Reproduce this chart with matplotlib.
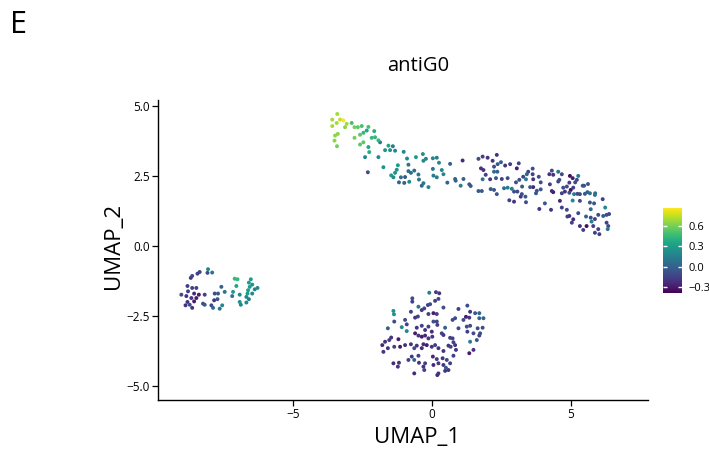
import numpy as np
import matplotlib
matplotlib.use("Agg")
import matplotlib.pyplot as plt
from matplotlib.colors import Normalize

plt.rcParams['font.family'] = ['Open Sans', 'DejaVu Sans']

title = "antiG0"
panel_label = "E"
xlabel = "UMAP_1"
ylabel = "UMAP_2"
xticks = [-5, 0, 5]
yticks = [-5.0, -2.5, 0.0, 2.5, 5.0]
cbar_ticks = [-0.3, 0.0, 0.3, 0.6]
vmin, vmax = -0.39, 0.87

# ---- upper arc cluster ----
arc1_x = [-3.41,-3.31,-3.19,-3.59,-3.43,-3.59,-3.07,-3.13,-2.89,-2.79,-2.67,-2.53,-2.29,-3.39,-3.49,-3.51,-3.42,-2.59,-2.47,-2.35,-2.08,-2.79,-2.17,-2.05,-1.93,-2.47,-2.59,-2.29,-1.87,-1.57,-1.41,-1.69,-1.51,-1.33,-2.26,-1.93,-2.41,-1.02,-0.90,-0.58,
          -0.85,-1.75,-1.23,-1.27,-1.33,-1.47,-1.39,-2.31,-1.12,-0.97,-0.85,-0.76,-0.64,-0.49,-0.47,-1.19,-1.00,-0.82]
arc1_y = [4.71,4.51,4.48,4.51,4.39,4.28,4.36,4.24,4.39,4.24,4.24,4.28,4.25,4.00,3.94,3.76,3.56,3.97,4.04,4.12,4.10,3.86,3.86,3.88,3.77,3.70,3.62,3.53,3.70,3.58,3.56,3.42,3.42,3.40,3.35,3.17,3.17,3.36,3.12,3.17,
          2.90,2.81,2.88,2.72,2.61,2.52,2.45,2.63,2.45,2.46,2.67,2.61,2.69,2.55,2.37,2.27,2.25,2.29]
arc1_v = [0.70,0.75,0.85,0.70,0.70,0.70,0.70,0.65,0.50,0.60,0.55,0.50,0.50,0.65,0.65,0.65,0.60,0.55,0.45,0.35,0.40,0.60,0.45,0.45,0.45,0.55,0.55,0.35,0.10,0.35,0.15,0.25,0.25,0.20,0.40,0.20,0.20,0.20,0.20,0.30,
          0.10,0.25,0.30,0.25,0.25,0.30,0.20,-0.10,0.05,-0.05,0.05,0.05,0.05,0.10,0.10,0.00,0.00,0.20]

arc2_x = [-0.33,-0.22,-0.31,0.03,0.17,0.25,0.65,1.10,0.03,0.35,0.41,0.05,0.17,-0.31,-0.37,-0.13,0.55,0.83,0.85,1.13,1.03,1.34,1.39]
arc2_y = [3.28,3.11,3.04,3.13,3.15,2.97,2.93,3.05,2.75,2.71,2.56,2.51,2.45,2.24,2.15,2.10,2.26,2.39,2.33,2.39,2.15,2.20,2.14]
arc2_v = [0.25,0.20,0.20,0.20,0.15,0.20,0.00,-0.25,0.10,0.20,0.20,0.15,0.15,0.10,0.00,0.20,0.00,0.00,0.00,0.00,0.15,-0.05,-0.05]

arc3_x = [1.67,1.82,2.00,2.18,2.33,2.48,2.36,2.63,2.23,1.85,1.76,2.23,2.35,2.81,3.12,3.05,1.93,1.82,2.09,2.30,2.51,2.72,3.02,3.14,1.67,1.79,2.11,2.23,2.33,2.59,2.72,2.87,2.95,3.07,2.78,2.95]
arc3_y = [3.11,3.19,3.15,3.04,3.25,2.99,2.92,2.87,2.83,2.71,2.77,2.65,2.65,2.92,2.95,2.77,2.54,2.38,2.38,2.42,2.39,2.42,2.27,2.36,1.96,1.96,2.03,2.00,1.85,2.06,2.08,2.04,1.94,1.94,1.63,1.58]
arc3_v = [-0.10,-0.15,-0.20,-0.20,-0.20,0.00,-0.05,-0.20,-0.10,-0.20,-0.20,0.05,0.00,-0.15,-0.15,-0.30,-0.15,0.10,-0.20,-0.05,-0.15,-0.10,-0.10,-0.10,-0.05,-0.05,-0.05,-0.05,-0.05,0.05,0.15,0.15,-0.10,-0.10,-0.15,-0.20]

arc4_x = [3.46,3.41,3.62,3.28,3.38,3.62,3.64,3.84,3.91,3.24,3.23,3.36,3.19,3.53,3.64,3.77,3.91,3.74,3.38,4.06,
          3.86,4.28,4.31,4.22,4.36,4.54,4.67,4.58,4.54,4.24,4.31,4.36,4.72,4.85,4.67,4.78,4.96,5.06,5.26,5.21,
          5.15,4.94,5.08,4.99,4.94,5.11,5.23,5.42,5.47,5.61,5.32,5.50,5.59,5.68,5.87,5.86,5.32,5.06,4.60,4.67,
          4.85,5.68,5.83,6.14,6.23,5.71,5.26,4.94,4.87,5.08,5.03,5.54,5.71,5.86,5.74,5.98,6.16,6.28,6.37,5.32,
          5.56,5.80,5.98,6.28,6.34,5.44,5.86,6.02,6.32]
arc4_y = [2.65,2.56,2.76,2.47,2.38,2.56,2.38,2.47,2.27,2.12,1.85,1.76,1.76,2.10,2.10,1.97,2.02,1.88,1.56,1.52,
          1.32,1.29,2.69,2.56,2.54,2.65,2.56,2.36,2.30,2.20,1.96,1.92,2.08,2.12,1.88,1.94,2.50,2.42,2.50,2.36,
          2.27,2.26,2.08,2.00,1.90,1.85,1.86,2.15,2.15,2.21,1.85,1.86,1.92,1.88,1.88,1.82,1.61,1.62,1.61,1.37,
          1.29,1.55,1.52,1.67,1.37,1.31,1.17,1.07,1.05,0.95,0.83,1.05,1.01,0.96,0.87,1.11,1.07,1.11,1.14,0.71,
          0.71,0.71,0.60,0.83,0.71,0.57,0.47,0.42,0.60]
arc4_v = [-0.15,0.00,-0.10,-0.15,0.15,-0.15,-0.20,-0.10,-0.10,-0.05,-0.10,-0.05,-0.20,-0.05,-0.25,-0.05,-0.05,-0.05,-0.10,-0.05,
          -0.20,-0.20,-0.10,-0.20,-0.20,0.10,-0.10,-0.10,-0.15,-0.15,-0.25,-0.30,-0.10,-0.10,-0.15,-0.20,-0.35,-0.30,0.15,-0.10,
          -0.10,-0.15,-0.15,-0.35,-0.10,0.15,-0.10,-0.05,-0.10,-0.05,-0.10,-0.05,0.00,0.05,0.05,0.10,-0.10,0.20,-0.25,-0.15,
          -0.10,-0.05,-0.05,-0.15,0.20,0.05,-0.10,-0.20,-0.15,-0.25,-0.15,0.00,-0.10,-0.15,0.15,-0.10,-0.05,-0.10,-0.10,-0.20,
          -0.35,-0.15,-0.15,-0.15,-0.10,-0.15,-0.15,-0.15,0.10]

# ---- bottom cluster ----
bot1_x = [-0.10,-0.71,-0.71,-0.49,-0.28,-0.37,-0.15,-0.07,-0.76,-1.39,-1.37,-0.51,-0.61,-0.13,-1.36,-0.97,-0.91,-1.09,-0.91,-1.59,
          -0.55,-0.37,-0.13,-0.25,-0.61,-0.49,-0.37,-0.25,-0.13,0.01,-1.47,-1.54,-1.21,-0.97,-1.15,-0.76,-0.55,-0.64,-0.31,-0.19,
          -0.37,-1.69,-1.79,-1.59,-1.75,-1.36,-0.73,-0.49,-0.85,-0.64,-0.47,-0.25,-0.31,-1.19,-1.39,-1.23,-0.28,-0.64]
bot1_y = [-1.67,-1.87,-1.99,-2.17,-2.23,-2.29,-2.11,-2.08,-2.35,-2.32,-2.44,-2.52,-2.56,-2.43,-2.70,-2.64,-2.80,-2.90,-3.04,-2.94,
          -2.92,-2.85,-2.88,-3.00,-3.12,-3.20,-3.24,-3.20,-3.30,-3.24,-3.27,-3.36,-3.33,-3.54,-3.60,-3.51,-3.56,-3.65,-3.51,-3.54,
          -3.65,-3.42,-3.54,-3.65,-3.78,-3.60,-3.95,-3.92,-4.07,-4.07,-4.17,-4.19,-4.31,-4.17,-4.19,-4.31,-4.43,-4.55]
bot1_v = [0.15,-0.10,-0.15,0.10,-0.15,-0.20,-0.15,-0.10,-0.15,0.25,0.25,-0.15,-0.20,-0.15,-0.10,-0.10,-0.15,0.20,0.20,0.00,
          -0.20,-0.15,-0.15,-0.20,-0.30,-0.20,-0.30,-0.25,-0.20,-0.20,-0.20,-0.15,-0.30,-0.20,-0.30,-0.20,-0.20,-0.10,-0.25,-0.30,
          -0.25,-0.20,-0.25,-0.20,-0.20,-0.15,-0.20,-0.15,-0.15,0.00,-0.20,-0.15,-0.20,-0.20,-0.25,-0.20,-0.15,-0.25]

bot2_x = [0.14,0.26,0.11,0.23,0.41,0.95,1.37,1.27,1.55,1.70,1.70,1.85,1.22,1.34,1.13,0.83,0.74,0.05,0.17,0.05,
          0.17,0.19,0.47,0.95,1.25,1.37,1.64,1.82,1.73,1.49,1.27,-0.01,0.35,0.41,0.65,0.74,1.70,1.61,1.37,0.77,
          0.59,0.83,0.67,0.11,-0.01,0.23,0.41,0.86,1.34,1.49,0.77,0.03,0.17,0.38,0.53,0.05,0.23,0.41,0.65,0.50,
          0.47,0.59,0.23,0.19]
bot2_y = [-1.65,-1.69,-1.96,-1.89,-2.20,-2.25,-2.35,-2.13,-2.40,-2.40,-2.58,-2.58,-2.53,-2.56,-2.64,-2.58,-2.64,-2.40,-2.43,-2.70,
          -2.70,-2.82,-2.92,-2.94,-2.88,-2.85,-2.94,-2.92,-3.12,-3.12,-3.06,-3.06,-3.12,-3.18,-3.28,-3.30,-3.20,-3.36,-3.42,-3.44,
          -3.56,-3.54,-3.60,-3.54,-3.60,-3.65,-3.75,-3.71,-3.83,-3.71,-3.92,-3.95,-4.04,-4.01,-4.07,-4.25,-4.19,-4.25,-4.19,-4.35,
          -4.46,-4.43,-4.55,-4.61]
bot2_v = [-0.15,-0.20,-0.15,-0.10,-0.10,-0.15,-0.20,-0.10,-0.05,0.00,0.00,0.00,-0.30,-0.20,-0.10,-0.10,-0.10,-0.30,-0.15,-0.10,
          -0.15,-0.15,0.00,-0.10,-0.10,-0.10,-0.10,-0.10,-0.10,-0.10,-0.15,-0.25,-0.15,-0.20,-0.15,-0.15,-0.15,-0.05,0.15,-0.15,
          -0.20,-0.20,-0.15,-0.15,-0.20,-0.20,-0.20,-0.20,-0.30,-0.20,-0.15,-0.25,-0.15,-0.20,-0.10,-0.25,-0.20,-0.20,-0.15,-0.05,
          -0.20,-0.20,-0.20,-0.25]

# ---- left cluster ----
left_x = [-8.36,-8.44,-8.06,-8.08,-7.91,-8.63,-8.68,-8.80,-8.63,-8.48,-8.78,-9.02,-8.39,-8.56,-8.84,-8.66,-8.48,-8.56,-8.80,-8.72,
          -8.87,-8.63,-8.18,-7.82,-7.70,-7.58,-8.24,-8.18,-7.84,-7.72,-7.94,-7.88,-7.55,-7.64,-7.46,-7.19,-7.10,-7.00,-7.04,-7.16,
          -6.92,-6.52,-6.59,-6.47,-6.56,-6.62,-6.64,-6.38,-6.28,-6.47,-6.68,-6.59,-6.92,-6.68,-6.88]
left_y = [-0.93,-0.99,-0.83,-0.96,-0.95,-1.07,-1.14,-1.43,-1.50,-1.50,-1.62,-1.74,-1.74,-1.70,-1.79,-1.86,-1.86,-1.98,-2.00,-2.10,
          -2.12,-2.21,-1.74,-1.70,-1.70,-1.46,-2.06,-2.10,-1.94,-1.90,-2.12,-2.21,-2.12,-2.24,-1.64,-1.79,-1.17,-1.19,-1.43,-1.64,
          -1.74,-1.19,-1.31,-1.38,-1.46,-1.58,-1.70,-1.55,-1.50,-1.70,-1.82,-1.90,-2.00,-2.02,-2.10]
left_v = [-0.15,-0.15,0.20,-0.10,0.10,-0.10,-0.20,-0.15,-0.15,-0.15,-0.15,-0.10,-0.30,-0.25,-0.20,-0.20,-0.30,-0.30,-0.20,-0.10,
          -0.20,-0.20,-0.15,-0.10,-0.05,0.00,-0.10,-0.05,-0.20,-0.05,-0.10,0.05,0.20,0.10,0.10,0.10,0.45,0.45,0.35,0.30,
          0.20,0.30,0.30,0.25,0.30,0.30,0.30,0.15,0.20,0.20,0.20,0.15,0.25,0.20,0.20]

umap1 = np.array(arc1_x + arc2_x + arc3_x + arc4_x + bot1_x + bot2_x + left_x)
umap2 = np.array(arc1_y + arc2_y + arc3_y + arc4_y + bot1_y + bot2_y + left_y)
expr = np.array(arc1_v + arc2_v + arc3_v + arc4_v + bot1_v + bot2_v + left_v)

W, H = 709, 455
fig = plt.figure(figsize=(W / 100, H / 100), dpi=100)
ax = fig.add_axes([158 / W, (H - 400) / H, 490 / W, 300 / H])

order = np.argsort(expr)
sc = ax.scatter(umap1[order], umap2[order], c=expr[order], cmap='viridis',
                norm=Normalize(vmin=vmin, vmax=vmax), s=8, linewidths=0)

ax.set_xlim(-9.86, 7.77)
ax.set_ylim(-5.5, 5.21)
ax.set_xticks(xticks)
ax.set_xticklabels(["\u22125", "0", "5"])
ax.set_yticks(yticks)
ax.set_yticklabels([f"{t:.1f}".replace("-", "\u2212") for t in yticks])
for s in ['top', 'right']:
    ax.spines[s].set_visible(False)
for s in ['left', 'bottom']:
    ax.spines[s].set_linewidth(1.0)
    ax.spines[s].set_color('black')
ax.tick_params(direction='out', length=4, width=0.9, labelsize=8.5, colors='black', pad=2)

fig.text(418 / W, 1 - 66 / H, title, ha='center', va='center', fontsize=14.5)
fig.text(417 / W, 1 - 438 / H, xlabel, ha='center', va='center', fontsize=16)
fig.text(113 / W, 1 - 246 / H, ylabel, ha='center', va='center', fontsize=16, rotation=90)
fig.text(10 / W, 1 - 25 / H, panel_label, ha='left', va='center', fontsize=22)

cax = fig.add_axes([663 / W, (H - 293) / H, 19 / W, 85 / H])
cb = fig.colorbar(sc, cax=cax, ticks=cbar_ticks)
cb.outline.set_visible(False)
cb.ax.set_yticklabels([f"{t:.1f}".replace("-", "\u2212") for t in cbar_ticks])
cb.ax.tick_params(direction='in', length=3, width=1, color='white', labelsize=8, left=True, right=True, pad=5)

fig.savefig("out.png", dpi=100)
